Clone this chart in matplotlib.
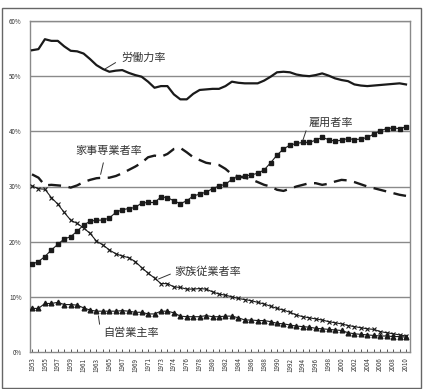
import matplotlib
matplotlib.use("Agg")
import matplotlib.pyplot as plt
from matplotlib.patches import Rectangle

plt.rcParams['font.family'] = ['Noto Sans CJK JP', 'DejaVu Sans']

# categories (1973 appears twice: without / with Okinawa)
categories = [str(y) for y in range(1953, 1974)] + ['1973'] + [str(y) for y in range(1974, 2011)]
tick_labels = categories[::2]

labor_force = [54.7, 54.9, 56.7, 56.4, 56.4, 55.4, 54.6, 54.5, 54.1, 53.1,
               52.0, 51.3, 50.8, 51.0, 51.1, 50.6, 50.2, 49.9, 49.0, 47.9,
               48.2, 48.2, 46.7, 45.8, 45.8, 46.8, 47.5, 47.6, 47.7, 47.7,
               48.2, 49.0, 48.8, 48.7, 48.7, 48.7, 49.2, 49.9, 50.7, 50.8,
               50.7, 50.3, 50.1, 50.0, 50.2, 50.5, 50.1, 49.6, 49.3, 49.1,
               48.5, 48.3, 48.2, 48.3, 48.4, 48.5, 48.6, 48.7, 48.5]
employees = [15.9, 16.4, 17.3, 18.5, 19.5, 20.5, 20.9, 21.9, 23.0, 23.7,
             23.9, 23.9, 24.3, 25.3, 25.8, 26.0, 26.2, 27.0, 27.1, 27.1,
             28.1, 28.0, 27.4, 26.9, 27.4, 28.3, 28.6, 29.0, 29.6, 30.1,
             30.4, 31.3, 31.8, 31.9, 32.1, 32.4, 33.0, 34.3, 35.7, 36.8,
             37.5, 37.8, 38.0, 38.0, 38.4, 38.9, 38.5, 38.2, 38.4, 38.7,
             38.5, 38.6, 38.9, 39.5, 40.1, 40.5, 40.6, 40.5, 40.8]
housework = [32.2, 31.6, 30.2, 30.3, 30.2, 30.1, 29.8, 30.2, 30.8, 31.2,
             31.5, 31.6, 31.6, 31.9, 32.4, 33.0, 33.6, 34.3, 35.3, 35.6,
             35.4, 35.9, 36.8, 37.0, 36.2, 35.3, 34.8, 34.3, 34.1, 33.9,
             33.2, 32.2, 31.8, 31.6, 31.3, 30.8, 30.3, 30.0, 29.4, 29.2,
             29.6, 30.0, 30.3, 30.6, 30.6, 30.3, 30.5, 30.9, 31.2, 31.1,
             30.8, 30.4, 30.0, 29.7, 29.4, 29.1, 28.8, 28.5, 28.3]
family_workers = [30.1, 29.6, 29.5, 28.0, 26.8, 25.3, 23.9, 23.3, 22.5, 21.5,
                  20.1, 19.4, 18.5, 17.8, 17.4, 17.1, 16.4, 15.3, 14.3, 13.4,
                  12.4, 12.4, 11.8, 11.7, 11.4, 11.4, 11.5, 11.4, 10.9, 10.5,
                  10.3, 10.0, 9.7, 9.5, 9.3, 9.0, 8.7, 8.3, 7.9, 7.6,
                  7.2, 6.7, 6.4, 6.2, 6.0, 5.8, 5.5, 5.3, 5.1, 4.8,
                  4.6, 4.4, 4.2, 4.1, 3.7, 3.5, 3.3, 3.1, 2.9]
self_employed = [7.9, 7.9, 8.8, 8.8, 9.0, 8.6, 8.6, 8.5, 8.0, 7.6,
                 7.4, 7.4, 7.4, 7.4, 7.5, 7.4, 7.2, 7.2, 6.9, 6.9,
                 7.4, 7.4, 7.1, 6.5, 6.4, 6.4, 6.4, 6.6, 6.4, 6.4,
                 6.5, 6.5, 6.2, 5.8, 5.8, 5.7, 5.7, 5.5, 5.2, 5.1,
                 4.9, 4.7, 4.6, 4.5, 4.3, 4.2, 4.1, 4.0, 3.9, 3.5,
                 3.3, 3.2, 3.1, 3.0, 2.9, 2.9, 2.8, 2.8, 2.7]

W, H = 424, 389
fig = plt.figure(figsize=(W / 100, H / 100), dpi=100)
fig.patch.set_facecolor('white')
fig.patches.append(Rectangle((2 / W, 1 / H), 419 / W, 380 / H, transform=fig.transFigure,
                             fill=False, edgecolor='#666666', linewidth=1.0))

ax = fig.add_axes([30 / W, 1 - 352 / H, 380 / W, 331 / H])
x = list(range(len(categories)))
dark = '#1a1a1a'

for v in range(10, 61, 10):
    ax.axhline(v, color='#8a8a8a', linewidth=1.0, zorder=1)

ax.plot(x, labor_force, color=dark, linewidth=1.6, zorder=3)
ax.plot(x, housework, color=dark, linewidth=1.7, dashes=(5.5, 3.2), zorder=3)
ax.plot(x, employees, color=dark, linewidth=0.8, marker='s', markersize=3.0, zorder=3)
ax.plot(x, family_workers, color=dark, linewidth=0.8, marker='x', markersize=3.5,
        markeredgewidth=0.8, zorder=3)
ax.plot(x, self_employed, color=dark, linewidth=0.8, marker='^', markersize=3.4, zorder=3)

ax.set_xlim(-0.31, 58.62)
ax.set_ylim(0, 60)
ax.set_yticks(range(0, 61, 10))
ax.set_yticklabels([f'{v}%' for v in range(0, 61, 10)], fontsize=4.5, color='#333333')
ax.tick_params(axis='y', length=0, pad=6)
ax.set_xticks(x, minor=True)
ax.set_xticks(x[::2])
ax.set_xticklabels(tick_labels, rotation=90, fontsize=4.5, color='#333333')
ax.tick_params(axis='x', which='both', direction='in', length=2.5, width=0.7,
               color='#555555', pad=4)
for s in ax.spines.values():
    s.set_color('#8a8a8a')
    s.set_linewidth(1.0)

# annotations (data coordinates converted from reference pixels)
def px(xp, yp):
    return ((xp - 32) / 6.45, (352 - yp) / 5.52)

tc = '#333333'
fs = 8
ax.text(*px(144, 57), '労働力率', ha='center', va='center', fontsize=fs, color=tc)
ax.annotate('', xy=px(103, 70), xytext=px(118, 61),
            arrowprops=dict(arrowstyle='-', color='#333333', lw=0.7))
ax.text(*px(109, 151), '家事専業者率', ha='center', va='center', fontsize=fs, color=tc)
ax.annotate('', xy=px(100, 177), xytext=px(104, 160),
            arrowprops=dict(arrowstyle='-', color='#333333', lw=0.7))
ax.text(*px(331, 123), '雇用者率', ha='center', va='center', fontsize=fs, color=tc)
ax.annotate('', xy=px(302, 143), xytext=px(307, 128),
            arrowprops=dict(arrowstyle='-', color='#333333', lw=0.7))
ax.text(*px(208, 272), '家族従業者率', ha='center', va='center', fontsize=fs, color=tc)
ax.annotate('', xy=px(156, 280), xytext=px(173, 273),
            arrowprops=dict(arrowstyle='-', color='#333333', lw=0.7))
ax.text(*px(131, 333), '自営業主率', ha='center', va='center', fontsize=fs, color=tc)
ax.annotate('', xy=px(98, 313), xytext=px(100, 327),
            arrowprops=dict(arrowstyle='-', color='#333333', lw=0.7))

fig.savefig('out.png', dpi=100, facecolor='white')
